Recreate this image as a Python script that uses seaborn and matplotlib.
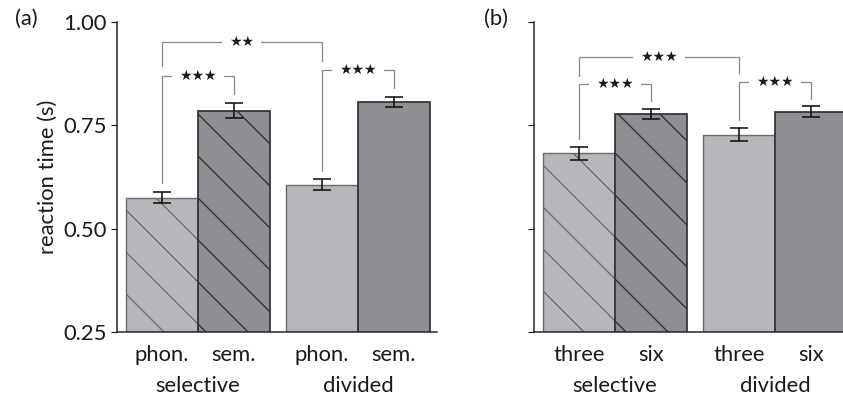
import matplotlib
matplotlib.use("Agg")
import matplotlib.pyplot as plt
import matplotlib.transforms as mtransforms
import seaborn as sns
import pandas as pd
import numpy as np

# ---------------- data ----------------
groups = ["selective", "divided"]
a_conditions = ["phon.", "sem."]
a_means = {"selective": [0.575, 0.785], "divided": [0.606, 0.806]}
a_errs = {"selective": [0.013, 0.018], "divided": [0.013, 0.012]}
b_conditions = ["three", "six"]
b_means = {"selective": [0.682, 0.777], "divided": [0.727, 0.783]}
b_errs = {"selective": [0.015, 0.012], "divided": [0.016, 0.013]}
y_ticks = [0.25, 0.50, 0.75, 1.00]
y_tick_labels = ["0.25", "0.50", "0.75", "1.00"]

# significance brackets: (left bar, right bar, line height, left leg end, right leg end, label)
a_brackets = [
    (0, 2, 0.951, 0.894, 0.906, "★★"),
    (0, 1, 0.870, 0.611, 0.826, "★★★"),
    (2, 3, 0.884, 0.640, 0.840, "★★★"),
]
b_brackets = [
    (0, 2, 0.916, 0.869, 0.876, "★★★"),
    (0, 1, 0.849, 0.716, 0.809, "★★★"),
    (2, 3, 0.854, 0.763, 0.813, "★★★"),
]

# ---------------- style ----------------
DPI = 252
PX = 72.0 / DPI  # points per pixel
sns.set_style("ticks")
plt.rcParams["font.family"] = ["Lato", "DejaVu Sans"]
plt.rcParams["hatch.linewidth"] = 1.3 * PX
LIGHT = "#b6b7bb"
DARK = "#8e8f93"
LIGHT_EDGE = "#6b6b6b"
DARK_EDGE = "#2e2e2e"
TXT = "#1a1a1a"
FS = 22 * PX

fig = plt.figure(figsize=(843 / DPI, 399 / DPI), dpi=DPI)
ax_a = fig.add_axes([117 / 843, 67 / 399, 320 / 843, 310 / 399])
ax_b = fig.add_axes([534 / 843, 67 / 399, 320 / 843, 310 / 399])


def make_df(conds, means, errs):
    rows = []
    for g in groups:
        for c, m, e in zip(conds, means[g], errs[g]):
            rows.append({"group": g, "cond": c, "mean": m, "err": e})
    return pd.DataFrame(rows)


def draw_panel(ax, conds, means, errs, brackets, show_labels):
    df = make_df(conds, means, errs)
    sns.barplot(data=df, x="group", y="mean", hue="cond", order=groups,
                hue_order=conds, palette={conds[0]: LIGHT, conds[1]: DARK},
                width=0.9, errorbar=None, legend=False, ax=ax, saturation=1)
    patches = sorted([p for p in ax.patches if p.get_width() > 0],
                     key=lambda p: p.get_x())
    centers = []
    for i, p in enumerate(patches):
        light = (i % 2 == 0)
        p.set_edgecolor(LIGHT_EDGE if light else DARK_EDGE)
        p.set_linewidth((1.4 if light else 1.7) * PX)
        if i < 2:
            p.set_hatch("\\\\")
        centers.append(p.get_x() + p.get_width() / 2)
    centers = np.array(centers)
    ax.errorbar(centers, df["mean"].values, yerr=df["err"].values, fmt="none",
                ecolor="#111111", elinewidth=1.6 * PX, capsize=9 * PX,
                capthick=1.6 * PX, zorder=5)

    for li, ri, yl, yle, yre, lab in brackets:
        xl, xr = centers[li], centers[ri]
        ax.plot([xl, xl, xr, xr], [yle, yl, yl, yre], color="#8a8a8a",
                lw=1.3 * PX, solid_joinstyle="miter", zorder=3, clip_on=False)
        ax.text((xl + xr) / 2, yl, lab, ha="center", va="center",
                fontsize=14 * PX, family=["DejaVu Sans"], color=TXT, zorder=4,
                bbox=dict(boxstyle="square,pad=0.5", fc="white", ec="none"))

    ax.set_xlim(-0.506, 1.494)
    ax.set_ylim(0.25, 1.00)
    ax.set_xticks(centers, labels=[conds[0], conds[1], conds[0], conds[1]])
    ax.tick_params(axis="x", length=0, pad=13 * PX, labelsize=FS, labelcolor=TXT)
    ax.set_yticks(y_ticks)
    ax.set_yticklabels(y_tick_labels if show_labels else [])
    ax.tick_params(axis="y", length=6 * PX, width=1.2 * PX, pad=4 * PX,
                   labelsize=FS, labelcolor=TXT, color="#222222")
    ax.set_xlabel("")
    ax.set_ylabel("")
    for s in ["top", "right"]:
        ax.spines[s].set_visible(False)
    for s in ["left", "bottom"]:
        ax.spines[s].set_linewidth(1.5 * PX)
        ax.spines[s].set_color("#222222")
    trans = mtransforms.blended_transform_factory(ax.transData, ax.transAxes)
    for gi, g in enumerate(groups):
        ax.text(gi, -0.1935, g, ha="center", va="baseline", fontsize=FS,
                color=TXT, transform=trans)


draw_panel(ax_a, a_conditions, a_means, a_errs, a_brackets, True)
draw_panel(ax_b, b_conditions, b_means, b_errs, b_brackets, False)

ax_a.text(-0.216, 0.5, "reaction time (s)", rotation=90, ha="center",
          va="center", fontsize=FS, color=TXT, transform=ax_a.transAxes)
fig.text(26 / 843, 1 - 19 / 399, "(a)", ha="center", va="center",
         fontsize=FS, color=TXT)
fig.text(496 / 843, 1 - 19 / 399, "(b)", ha="center", va="center",
         fontsize=FS, color=TXT)

fig.savefig("out.png", dpi=DPI)
